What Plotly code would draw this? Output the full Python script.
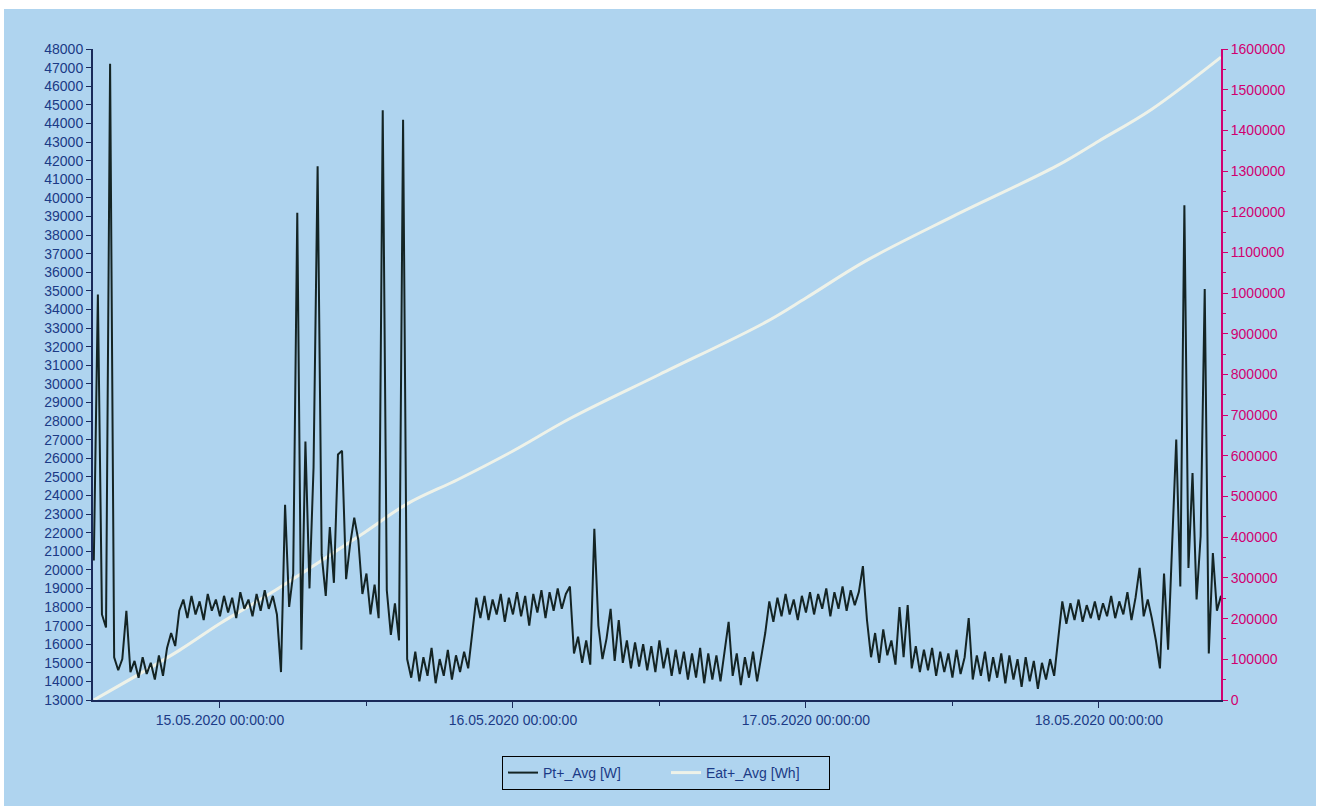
import pandas as pd
import plotly.graph_objects as go

# ---- Data ----
# Pt+_Avg [W], 20-minute samples, per day
p_14 = [20500, 34800, 17600, 16900, 47200, 15300, 14600, 15200, 17800, 14500,
        15100, 14200, 15300, 14400, 15000, 14100, 15400, 14300, 15800, 16600,
        15900, 17800, 18400, 17400, 18600, 17600, 18300, 17300, 18700, 17800,
        18400]  # 14.05 13:40 .. 23:40
p_15 = [17500, 18600, 17700, 18500, 17400, 18800, 17900, 18400, 17500,
        18700, 17800, 18900, 17900, 18600, 17600, 14500, 23500, 18000,
        19800, 39200, 15700, 26900, 19000, 25500, 41700, 20800, 18600,
        22300, 19300, 26200, 26400, 19500, 21400, 22800, 21600, 18700,
        19800, 17600, 19200, 17400, 44700, 18900, 16500, 18200, 16200,
        44200, 15200, 14200, 15600, 14000, 15300, 14300, 15800, 13900,
        15200, 14300, 15700, 14100, 15400, 14500, 15600, 14700, 16600,
        18500, 17400, 18600, 17300, 18400, 17600, 18700, 17200, 18500]
p_16 = [17600, 18800, 17500, 18600, 17000, 18700, 17700, 18900, 17400,
        18800, 17800, 19000, 17900, 18700, 19100, 15500, 16400, 15000,
        16200, 14900, 22200, 17000, 15200, 16300, 17900, 15100, 17300,
        15000, 16200, 14700, 16100, 14800, 16000, 14600, 15900, 14500,
        16200, 14700, 15800, 14300, 15700, 14400, 15600, 14100, 15500,
        14200, 15800, 13900, 15500, 14100, 15400, 14000, 15600, 17200,
        14300, 15500, 13800, 15300, 14200, 15600, 14000, 15200, 16600,
        18300, 17200, 18500, 17500, 18700, 17600, 18400, 17300, 18600]
p_17 = [17700, 18800, 17600, 18700, 17900, 19000, 17500, 18800, 17900,
        19100, 17800, 18900, 18100, 18800, 20200, 17300, 15300, 16600,
        15000, 16800, 15400, 16200, 14900, 18000, 15300, 18100, 14700,
        15900, 14500, 15700, 14600, 15800, 14300, 15600, 14500, 15500,
        14200, 15700, 14400, 15300, 17400, 14100, 15400, 14300, 15600,
        14000, 15300, 14200, 15500, 13900, 15400, 14100, 15200, 13700,
        15300, 14000, 15100, 13600, 15000, 14100, 15200, 14300, 16400,
        18300, 17100, 18200, 17300, 18400, 17200, 18100, 17400, 18300]
p_18 = [17300, 18200, 17500, 18600, 17400, 18300, 17600, 18800, 17300,
        18500, 20100, 17500, 18400, 17400, 16200, 14700, 19800, 15700,
        21400, 27000, 19100, 39600, 20100, 25200, 18400, 21800, 35100,
        15500, 20900, 17800, 18600]  # 18.05 00:00 .. 10:00
p_starts = ["2020-05-14 13:40", "2020-05-15 00:00", "2020-05-16 00:00",
            "2020-05-17 00:00", "2020-05-18 00:00"]

# Eat+_Avg [Wh]
e_times = ["2020-05-14 13:40", "2020-05-14 20:40", "2020-05-15 00:00",
           "2020-05-15 04:40", "2020-05-15 11:30", "2020-05-15 15:20",
           "2020-05-15 19:30", "2020-05-16 00:00", "2020-05-16 04:45",
           "2020-05-16 12:00", "2020-05-16 20:40", "2020-05-17 00:00",
           "2020-05-17 04:50", "2020-05-17 12:00", "2020-05-17 20:30",
           "2020-05-18 00:00", "2020-05-18 04:20", "2020-05-18 10:00"]
e_vals = [0, 122000, 188000, 272000, 405000, 482000, 542000, 612000, 693000,
          800000, 928000, 988000, 1078000, 1188000, 1312000, 1374000,
          1452000, 1580000]

x_ticks = ["2020-05-15", "2020-05-16", "2020-05-17", "2020-05-18"]
x_tick_labels = ["15.05.2020 00:00:00", "16.05.2020 00:00:00",
                 "17.05.2020 00:00:00", "18.05.2020 00:00:00"]
x_minor = ["2020-05-14 12:00", "2020-05-15 12:00", "2020-05-16 12:00",
           "2020-05-17 12:00"]

# ---- Build series ----
p_times, p_vals = [], []
for start, vals in zip(p_starts, [p_14, p_15, p_16, p_17, p_18]):
    p_times += list(pd.date_range(start, periods=len(vals), freq="20min"))
    p_vals += vals

BG = "#afd4ef"
NAVY = "#1b3a86"
MAG = "#d1006f"
AX = "#1a2a5a"
FONT = "Liberation Sans, Arial, sans-serif"

fig = go.Figure()
fig.add_trace(go.Scatter(x=p_times, y=p_vals, mode="lines", name="Pt+_Avg [W]",
                         line=dict(color="#142424", width=2), yaxis="y2"))
fig.add_trace(go.Scatter(x=pd.to_datetime(e_times), y=e_vals, mode="lines",
                         name="Eat+_Avg [Wh]", line_shape="spline",
                         line=dict(color="rgba(245,245,232,0.9)", width=3),
                         yaxis="y"))

W, H = 1328, 812
L, R, T, B = 93, 107, 49, 112
pw, ph = W - L - R, H - T - B

def px(x):
    return (x - L) / pw

def py(y):
    return (H - B - y) / ph

fig.update_layout(
    width=W, height=H,
    margin=dict(l=L, r=R, t=T, b=B),
    paper_bgcolor="white", plot_bgcolor="rgba(0,0,0,0)",
    font=dict(family=FONT, size=15, color=NAVY),
    showlegend=True,
    legend=dict(orientation="h", x=px(666), xanchor="center", y=py(756),
                yanchor="top", bgcolor=BG, bordercolor="black", borderwidth=1,
                font=dict(size=14, color=NAVY), entrywidth=118,
                entrywidthmode="pixels", tracegroupgap=0),
    shapes=[dict(type="rect", xref="paper", yref="paper", layer="below",
                 x0=px(4), x1=px(1316), y0=py(806), y1=py(9),
                 fillcolor=BG, line=dict(width=0))],
    xaxis=dict(type="date",
               range=["2020-05-14 13:36", "2020-05-18 10:00"],
               tickmode="array", tickvals=pd.to_datetime(x_ticks),
               ticktext=x_tick_labels,
               showgrid=False, zeroline=False, showline=True,
               linecolor=AX, linewidth=2,
               ticks="outside", ticklen=6, tickcolor=AX,
               tickfont=dict(size=14, color=NAVY),
               minor=dict(tickvals=pd.to_datetime(x_minor),
                          ticks="outside", ticklen=4, tickcolor=AX,
                          showgrid=False)),
    yaxis=dict(side="right", range=[0, 1600000], dtick=100000, tick0=0,
               tickformat="d", showgrid=False, zeroline=False, showline=True,
               linecolor=MAG, linewidth=2, ticks="outside", ticklen=5,
               tickcolor=MAG, tickfont=dict(size=14, color=MAG),
               minor=dict(dtick=50000, ticks="outside", ticklen=3,
                          tickcolor=MAG, showgrid=False)),
    yaxis2=dict(side="left", overlaying="y", range=[13000, 48000], dtick=1000,
                tick0=13000, tickformat="d", showgrid=False, zeroline=False,
                showline=True, linecolor=AX, linewidth=2,
                ticks="outside", ticklen=5, tickcolor=AX,
                tickfont=dict(size=14, color=NAVY)),
)

fig.write_html("out.html")
